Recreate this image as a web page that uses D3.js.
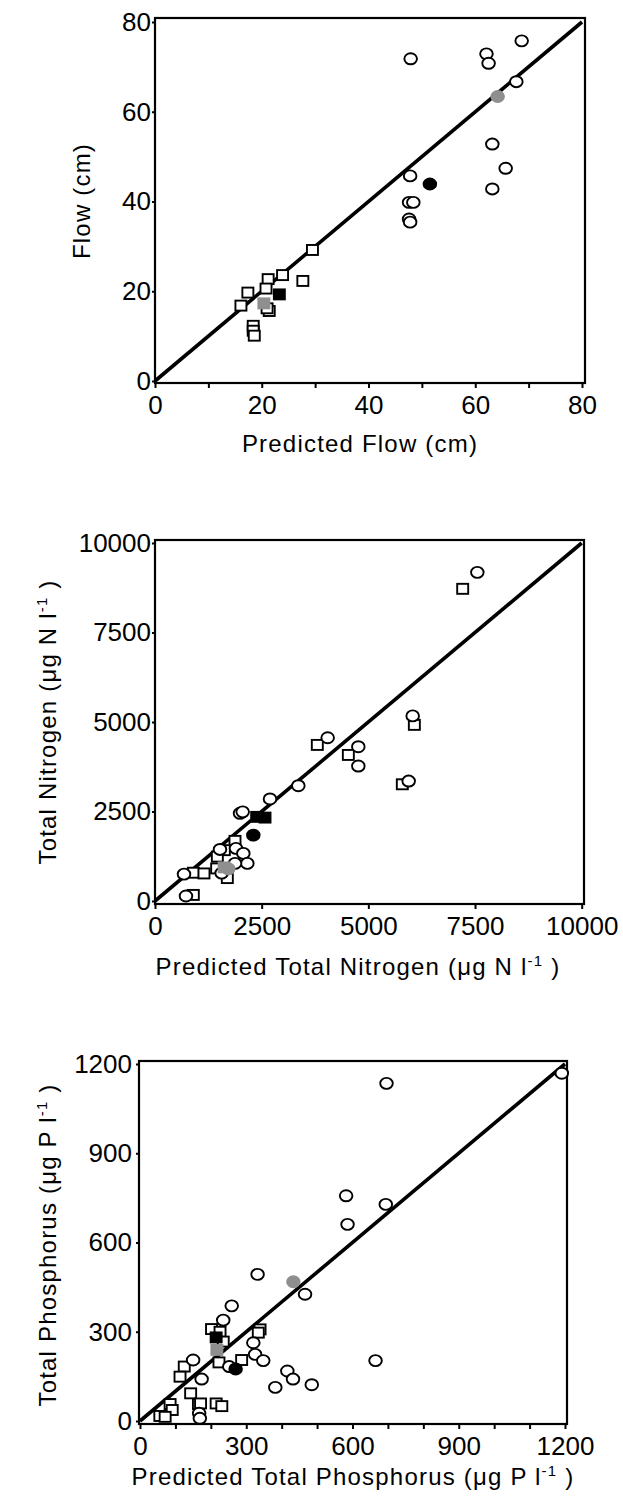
<!DOCTYPE html>
<html>
<head>
<meta charset="utf-8">
<script src="https://cdn.jsdelivr.net/npm/d3@7"></script>
<style>
  body { margin: 0; background: #fff; }
  text { font-family: "Liberation Sans", Arial, Helvetica, sans-serif; fill: #000; }
</style>
</head>
<body>
<svg id="chart" width="623" height="1500"></svg>
<script>
// ---- Flow (cm) ----
const flowOpenCircles = [[47.9,71.8],[62.1,72.9],[62.5,70.8],[68.7,75.8],[67.7,66.7],[63.2,52.8],[65.7,47.4],[63.2,42.8],[47.8,45.7],[47.6,39.8],[48.4,39.8],[47.6,36.1],[47.8,35.4]];
const flowGrayCircles = [[64.2,63.4]];
const flowBlackCircles = [[51.5,43.9]];
const flowOpenSquares = [[29.5,29.2],[23.9,23.6],[21.2,22.7],[27.7,22.3],[17.4,19.7],[20.8,20.6],[16.1,16.8],[21.4,15.6],[21.0,16.2],[18.4,12.3],[18.4,11.2],[18.6,10.1]];
const flowGraySquares = [[20.4,17.3]];
const flowBlackSquares = [[23.3,19.3]];
const flowTicks = [0,10,20,30,40,50,60,70,80];
const flowLabels = [0,20,40,60,80];

// ---- Total Nitrogen ----
const nOpenCircles = [[7554,9180],[6039,5170],[4047,4560],[4765,4310],[4765,3770],[5945,3350],[3359,3220],[2695,2850],[1992,2450],[2055,2490],[1898,1470],[1523,1440],[2070,1330],[2164,1050],[1875,1050],[1562,780],[680,750],[726,140]];
const nOpenSquares = [[7211,8720],[6078,4920],[3804,4360],[4531,4080],[5796,3260],[1875,1680],[1625,1420],[1461,1240],[1695,640],[1445,910],[898,790],[1148,770],[898,170]];
const nGrayCircles = [[1720,900]];
const nGraySquares = [[1620,940]];
const nBlackCircles = [[2304,1840]];
const nBlackSquares = [[2383,2350],[2578,2330]];
const nTicks = [0,2500,5000,7500,10000];
const nLabels = [0,2500,5000,7500,10000];

// ---- Total Phosphorus ----
const pOpenCircles = [[696,1135],[1191,1169],[582,757],[694,728],[586,661],[332,493],[466,426],[259,387],[235,339],[320,263],[325,224],[348,203],[252,183],[150,205],[174,141],[416,168],[432,141],[382,113],[485,122],[665,203],[167,26],[169,9]];
const pOpenSquares = [[202,309],[226,300],[235,267],[339,308],[334,297],[287,205],[223,197],[125,183],[113,149],[143,93],[85,57],[91,37],[56,17],[71,14],[165,57],[171,59],[215,59],[231,50]];
const pGrayCircles = [[433,468]];
const pGraySquares = [[217,239]];
const pBlackCircles = [[270,175]];
const pBlackSquares = [[215,281]];
const pTicks = [0,100,200,300,400,500,600,700,800,900,1000,1100,1200];
const pLabels = [0,300,600,900,1200];
const pYTicks = [0,300,600,900,1200];

const svg = d3.select('#chart');

function drawPanel(cfg) {
  const x = d3.scaleLinear().domain([0, cfg.max]).range(cfg.xr);
  const y = d3.scaleLinear().domain([0, cfg.max]).range(cfg.yr);
  const g = svg.append('g');

  // x axis
  g.append('g')
    .attr('transform', `translate(0,${cfg.frame[3]})`)
    .call(d3.axisBottom(x).tickValues(cfg.xTicks).tickSize(5).tickPadding(8)
      .tickFormat(d => cfg.xLabels.includes(d) ? d : ''))
    .call(a => a.select('.domain').remove())
    .call(a => a.selectAll('line').attr('stroke', '#000').attr('stroke-width', 2))
    .call(a => a.selectAll('text').style('font-size', '26px').attr('fill', '#000'));

  // y axis
  g.append('g')
    .attr('transform', `translate(${cfg.frame[0]},0)`)
    .call(d3.axisLeft(y).tickValues(cfg.yTicks).tickSize(3).tickPadding(cfg.yPad)
      .tickFormat(d => d))
    .call(a => a.select('.domain').remove())
    .call(a => a.selectAll('line').attr('stroke', '#000').attr('stroke-width', 2))
    .call(a => a.selectAll('text').style('font-size', '26px').attr('fill', '#000'));

  // frame
  g.append('rect')
    .attr('x', cfg.frame[0]).attr('y', cfg.frame[1])
    .attr('width', cfg.frame[2] - cfg.frame[0]).attr('height', cfg.frame[3] - cfg.frame[1])
    .attr('fill', 'none').attr('stroke', '#000').attr('stroke-width', 2.2);

  // 1:1 line
  g.append('line')
    .attr('x1', x(0)).attr('y1', y(0)).attr('x2', x(cfg.max)).attr('y2', y(cfg.max))
    .attr('stroke', '#000').attr('stroke-width', 3.6);

  const squares = (data, fill) => g.append('g').selectAll('rect').data(data).enter().append('rect')
    .attr('x', d => x(d[0]) - 5.5).attr('y', d => y(d[1]) - 5)
    .attr('width', 11).attr('height', 10)
    .attr('fill', fill).attr('stroke', fill === '#fff' ? '#000' : fill).attr('stroke-width', 1.9);
  const circles = (data, fill) => g.append('g').selectAll('ellipse').data(data).enter().append('ellipse')
    .attr('cx', d => x(d[0])).attr('cy', d => y(d[1]))
    .attr('rx', 6.3).attr('ry', 5.5)
    .attr('fill', fill).attr('stroke', fill === '#fff' ? '#000' : fill).attr('stroke-width', 1.9);

  squares(cfg.s.openSq, '#fff');
  circles(cfg.s.openCi, '#fff');
  squares(cfg.s.graySq, '#8f8f8f');
  circles(cfg.s.grayCi, '#8f8f8f');
  squares(cfg.s.blackSq, '#000');
  circles(cfg.s.blackCi, '#000');

  // axis titles
  const xt = g.append('text')
    .attr('x', cfg.xTitlePos[0]).attr('y', cfg.xTitlePos[1])
    .attr('text-anchor', 'middle')
    .style('font-size', '24px').style('letter-spacing', '1.2px');
  addTitle(xt, cfg.xTitle);

  const yt = g.append('text')
    .attr('transform', `translate(${cfg.yTitlePos[0]},${cfg.yTitlePos[1]}) rotate(-90)`)
    .attr('text-anchor', 'middle')
    .style('font-size', '24px').style('letter-spacing', '1.2px');
  addTitle(yt, cfg.yTitle);
}

function addTitle(t, parts) {
  parts.forEach(p => {
    if (p.sup) {
      t.append('tspan').attr('dy', -9).style('font-size', '15px').text(p.sup);
      t.append('tspan').attr('dy', 9).text(p.after || '');
    } else {
      t.append('tspan').text(p.text);
    }
  });
}

drawPanel({
  max: 80, xr: [155, 582], yr: [381, 22], frame: [155, 18, 585, 383],
  xTicks: flowTicks, xLabels: flowLabels, yTicks: flowLabels, yPad: 1,
  s: { openSq: flowOpenSquares, openCi: flowOpenCircles, graySq: flowGraySquares, grayCi: flowGrayCircles, blackSq: flowBlackSquares, blackCi: flowBlackCircles },
  xTitle: [{ text: 'Predicted Flow (cm)' }], xTitlePos: [360, 452],
  yTitle: [{ text: 'Flow (cm)' }], yTitlePos: [90, 201]
});

drawPanel({
  max: 10000, xr: [155, 581.7], yr: [901, 543], frame: [155, 540, 584, 904],
  xTicks: nTicks, xLabels: nLabels, yTicks: nTicks, yPad: 1,
  s: { openSq: nOpenSquares, openCi: nOpenCircles, graySq: nGraySquares, grayCi: nGrayCircles, blackSq: nBlackSquares, blackCi: nBlackCircles },
  xTitle: [{ text: 'Predicted Total Nitrogen (\u03bcg N l' }, { sup: '-1', after: ' )' }], xTitlePos: [358, 975],
  yTitle: [{ text: 'Total Nitrogen (\u03bcg N l' }, { sup: '-1', after: ' )' }], yTitlePos: [56, 722]
});

drawPanel({
  max: 1200, xr: [140, 565], yr: [1421, 1064], frame: [139, 1061, 567, 1424],
  xTicks: pTicks, xLabels: pLabels, yTicks: pYTicks, yPad: 4,
  s: { openSq: pOpenSquares, openCi: pOpenCircles, graySq: pGraySquares, grayCi: pGrayCircles, blackSq: pBlackSquares, blackCi: pBlackCircles },
  xTitle: [{ text: 'Predicted Total Phosphorus (\u03bcg P l' }, { sup: '-1', after: ' )' }], xTitlePos: [353, 1485],
  yTitle: [{ text: 'Total Phosphorus (\u03bcg P l' }, { sup: '-1', after: ' )' }], yTitlePos: [56, 1245]
});
</script>
</body>
</html>
